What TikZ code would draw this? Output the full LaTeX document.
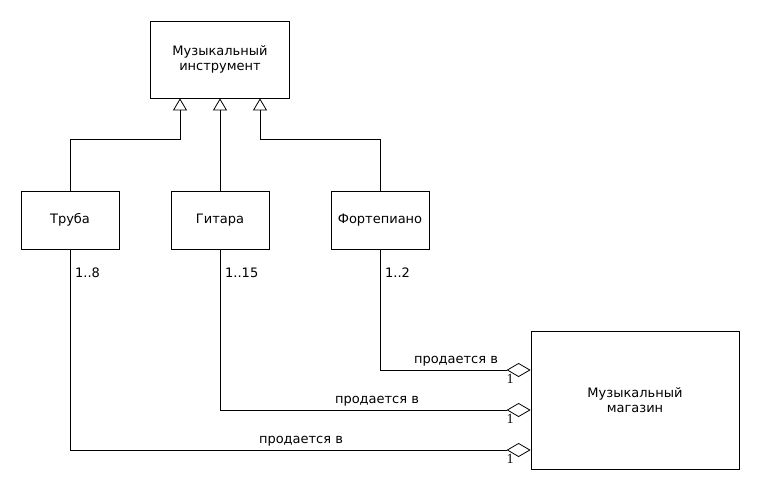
\documentclass[tikz,border=0pt]{standalone}
\usepackage{fontspec}
\setmainfont{DejaVu Sans}
\newfontfamily\multfont{Liberation Serif}
\usetikzlibrary{arrows.meta,positioning}

\begin{document}
\begin{tikzpicture}[x=1pt, y=-1pt,
    % node attributes
    every node/.style = {
        font=\fontsize{13}{15.5}\selectfont,
        align=center,
        inner sep=0pt},
    classbox/.style = {
        draw, 
        line width=0.8pt,
        minimum width=98pt, 
        minimum height=58pt},
    % connector attributes
    inherit/.style = {
        line width=0.8pt,
        -{Triangle[open, length=12pt, width=14pt, line width=0.8pt]}},
    aggr/.style = {
        line width=0.8pt,
        -{Diamond[open, length=24pt, width=14pt, line width=0.8pt]}},
    mult/.style = {anchor=west},
    rolelabel/.style = {}]
    \useasboundingbox (0,0) rectangle (760,500);
    % layout class boxes
    \node[classbox, minimum width=139pt, minimum height=77pt] (instr) at (220,59.5)
        {Музыкальный\\инструмент};
    \node[classbox] (truba) at (70,220) {Труба};
    \node[classbox] (gitara) at (220,220) {Гитара};
    \node[classbox] (forte) at (380,220) {Фортепиано};
    \node[classbox, minimum width=208pt, minimum height=138pt] (shop) at (635,400)
        {Музыкальный\\магазин};
    % generalization
    \draw[inherit] (truba.north) -- ++(0,-51) -| ([xshift=-40pt]instr.south);
    \draw[inherit] (gitara.north) -- (gitara.north |- instr.south);
    \draw[inherit] (forte.north) -- ++(0,-51) -| ([xshift=40pt]instr.south);
    % aggregation
    \draw[aggr] (forte.south) |- ([yshift=30pt]shop.west);
    \draw[aggr] (gitara.south) |- ([yshift=-10pt]shop.west);
    \draw[aggr] (truba.south) |- ([yshift=-50pt]shop.west);
    % multiplicities and labels
    \node[mult] (m1) at (75,273) {1..8};
    \node[mult] (m2) at (225,273) {1..15};
    \node[mult] (m3) at (385,273) {1..2};
    \node[rolelabel] (r1) at (456,361) {продается в};
    \node[rolelabel] (r2) at (377,401) {продается в};
    \node[rolelabel] (r3) at (301,441) {продается в};
    \node[font=\multfont\fontsize{14}{15}\selectfont] (s1) at (510,379) {1};
    \node[font=\multfont\fontsize{14}{15}\selectfont] (s2) at (510,419) {1};
    \node[font=\multfont\fontsize{14}{15}\selectfont] (s3) at (510,459) {1};
\end{tikzpicture}
\end{document}
